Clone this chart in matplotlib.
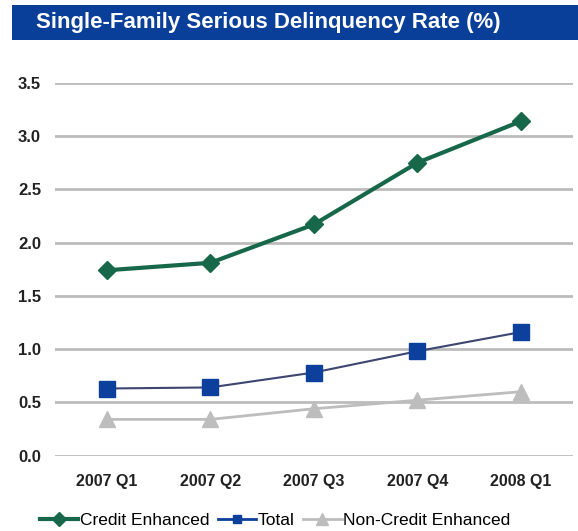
import matplotlib
matplotlib.use("Agg")
import matplotlib.pyplot as plt
from matplotlib.patches import Rectangle

plt.rcParams['font.family'] = ['Liberation Sans', 'DejaVu Sans']

quarters = ['2007 Q1', '2007 Q2', '2007 Q3', '2007 Q4', '2008 Q1']
credit_enhanced = [1.74, 1.81, 2.17, 2.75, 3.14]
total = [0.63, 0.64, 0.78, 0.98, 1.16]
non_credit = [0.34, 0.34, 0.44, 0.52, 0.60]
yticks = [0.0, 0.5, 1.0, 1.5, 2.0, 2.5, 3.0, 3.5]

fig = plt.figure(figsize=(5.78, 5.31), dpi=100)
ax = fig.add_axes([0.095, 0.142, 0.896, 0.702])

x = range(len(quarters))
ax.plot(x, non_credit, color='#bdbdbd', lw=2, marker='^', ms=11,
        mfc='#bdbdbd', mec='#bdbdbd', label='Non-Credit Enhanced', zorder=3)
ax.plot(x, total, color='#3c4670', lw=1.5, marker='s', ms=12,
        mfc='#0d3f9c', mec='#0d3f9c', label='Total', zorder=4)
ax.plot(x, credit_enhanced, color='#17684a', lw=3, marker='D', ms=9,
        mfc='#17684a', mec='#17684a', label='Credit Enhanced', zorder=5)

ax.set_xlim(-0.5, 4.5)
ax.set_ylim(0, 3.5)
ax.set_yticks(yticks)
ax.set_yticklabels([f'{v:.1f}' for v in yticks], fontsize=12, fontweight='bold', color='#222222')
ax.set_xticks(list(x))
ax.set_xticklabels(quarters, fontsize=11.5, fontweight='bold', color='#222222')
ax.tick_params(length=0, pad=10)
ax.tick_params(axis='x', pad=13)
ax.grid(axis='y', color='#bcbcbc', lw=2)
ax.set_axisbelow(True)
for s in ax.spines.values():
    s.set_visible(False)

# legend in the order of the original
h, l = ax.get_legend_handles_labels()
order = [2, 1, 0]
handles = [h[i] for i in order]
handles[1] = plt.Line2D([], [], color='#0d3f9c', lw=2, marker='s', ms=8, mfc='#0d3f9c', mec='#0d3f9c')
leg = fig.legend(handles, [l[i] for i in order], loc='center', bbox_to_anchor=(0.476, 0.02),
                 ncol=3, frameon=False, fontsize=12.5, handlelength=2.2, handletextpad=0.1,
                 columnspacing=0.5, markerscale=0.75)

# title banner
fig.patches.append(Rectangle((0.021, 0.925), 0.98, 0.066, transform=fig.transFigure,
                             facecolor='#0a3f99', edgecolor='none'))
fig.text(0.465, 0.958, 'Single-Family Serious Delinquency Rate (%)', color='white',
         fontsize=16, fontweight='bold', ha='center', va='center')

fig.savefig('out.png', dpi=100)
